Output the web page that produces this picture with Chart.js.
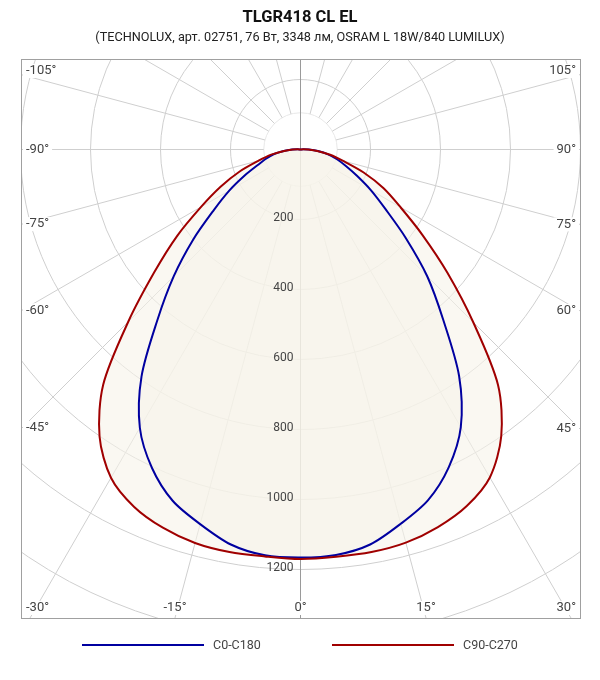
<!DOCTYPE html>
<html>
<head>
<meta charset="utf-8">
<script src="https://cdn.jsdelivr.net/npm/chart.js@4.4.1/dist/chart.umd.min.js"></script>
<style>
html,body{margin:0;padding:0;background:#fff;}
#wrap{position:relative;width:600px;height:680px;font-family:Roboto,"Noto Sans",sans-serif;overflow:hidden;}
#c{position:absolute;left:0;top:0;}
#title{position:absolute;left:0;top:7px;width:600px;text-align:center;font-weight:bold;font-size:16.5px;line-height:20px;color:#111;}
#subtitle{position:absolute;left:0;top:29px;width:600px;text-align:center;font-size:12.7px;line-height:16px;color:#222;}
#legend{position:absolute;left:0;top:637px;width:600px;height:16px;}
.item{position:absolute;top:0;height:16px;}
.swatch{position:absolute;left:0;top:7px;width:122px;height:2px;}
.lab{position:absolute;left:131px;top:0;font-size:12.5px;line-height:16px;color:#444;white-space:nowrap;}
</style>
</head>
<body>
<div id="wrap">
  <canvas id="c" width="600" height="680"></canvas>
  <div id="title">TLGR418 CL EL</div>
  <div id="subtitle">(TECHNOLUX, арт. 02751, 76 Вт, 3348 лм, OSRAM L 18W/840 LUMILUX)</div>
  <div id="legend"></div>
</div>
<script>
// ---- data (angles in degrees, intensity in cd) ----
const angles = [180,175,170,165,160,155,150,145,140,135,130,125,120,115,110,105,100,
  95,90,85,80,75,70,65,60,55,50,45,40,35,30,25,20,15,10,5,
  0,
  -5,-10,-15,-20,-25,-30,-35,-40,-45,-50,-55,-60,-65,-70,-75,-80,-85,-90,-95,
  -100,-105,-110,-115,-120,-125,-130,-135,-140,-145,-150,-155,-160,-165,-170,-175];

const seriesNames = ['C0-C180', 'C90-C270'];
const seriesColors = ['#0000a0', '#a00000'];

const c0c180 = [0,0,0,0,0,0,0,0,0,0,0,0,0,0,0,0,0,
  8,24,50,80,108,138,178,232,296,392,512,634,790,916,1002,1066,1107,1146,1163,
  1166,
  1164,1146,1108,1068,1004,918,792,636,512,400,303,235,176,130,102,78,48,24,8,
  0,0,0,0,0,0,0,0,0,0,0,0,0,0,0,0];

const c90c270 = [0,0,0,0,0,0,0,0,0,0,0,0,0,0,0,0,0,
  8,22,48,86,126,192,262,330,425,548,698,878,1000,1082,1124,1148,1163,1168,1168,
  1170,
  1167,1168,1164,1150,1126,1083,1001,877,696,545,430,328,252,186,124,85,47,22,8,
  0,0,0,0,0,0,0,0,0,0,0,0,0,0,0,0];

const ringValues = [105, 200, 400, 600, 800, 1000, 1200, 1400, 1600];
const innerRing = 105;
const ringLabelValues = [200, 400, 600, 800, 1000, 1200];
const angleLabelValues = [-105,-90,-75,-60,-45,-30,-15,0,15,30,45,60,75,90,105];
const radialMax = 1600;

// ---- layout constants ----
const CX = 300.5, CY = 149.5, PX_PER_CD = 0.35;

// legend (HTML)
const legendEl = document.getElementById('legend');
const legendLeft = [82, 332];
seriesNames.forEach((n, i) => {
  const it = document.createElement('div');
  it.className = 'item';
  it.style.left = legendLeft[i] + 'px';
  it.innerHTML = '<div class="swatch" style="background:' + seriesColors[i] + '"></div><div class="lab">' + n + '</div>';
  legendEl.appendChild(it);
});

const polarLayout = {
  id: 'polarLayout',
  afterLayout(chart) {
    const s = chart.scales.r;
    s.xCenter = CX;
    s.yCenter = CY;
    s.drawingArea = (s.max - s.min) * PX_PER_CD;
  },
  beforeDraw(chart) {
    const {ctx, chartArea: a} = chart;
    ctx.save();
    ctx.beginPath();
    ctx.rect(a.left, a.top, a.right - a.left, a.bottom - a.top);
    ctx.clip();
  },
  afterDraw(chart) {
    const {ctx, chartArea: a} = chart;
    const s = chart.scales.r;
    // ring value labels
    ctx.font = '12px Roboto';
    ctx.fillStyle = '#444';
    ctx.textAlign = 'right';
    ctx.textBaseline = 'middle';
    ringLabelValues.forEach(v => {
      const y = s.yCenter + s.getDistanceFromCenterForValue(v);
      ctx.fillText(String(v), s.xCenter - 7, y - 2);
    });
    // angle labels at the frame
    ctx.font = '13px Roboto';
    ctx.textAlign = 'center';
    angleLabelValues.forEach(a0 => {
      const idx = angles.indexOf(a0);
      const p = s.getPointPosition(idx, 100);
      const dx = (p.x - s.xCenter) / 100, dy = (p.y - s.yCenter) / 100;
      let t = Infinity;
      if (dx > 1e-9) t = Math.min(t, (a.right - s.xCenter) / dx);
      if (dx < -1e-9) t = Math.min(t, (a.left - s.xCenter) / dx);
      if (dy > 1e-9) t = Math.min(t, (a.bottom - s.yCenter) / dy);
      if (dy < -1e-9) t = Math.min(t, (a.top - s.yCenter) / dy);
      const ix = s.xCenter + dx * t, iy = s.yCenter + dy * t;
      const text = a0 + '°';
      const w = ctx.measureText(text).width;
      const h = 14;
      const lift = dy < -1e-9 ? 4 : 0;
      let x, y;
      if (Math.abs(iy - a.bottom) < 0.6) {
        x = Math.min(Math.max(ix, a.left + 4 + w / 2), a.right - 4 - w / 2);
        y = a.bottom - 10;
      } else if (ix <= a.left + 0.6) {
        x = a.left + 4 + w / 2;
        y = Math.max(iy - lift, a.top + 11);
      } else {
        x = a.right - 4 - w / 2;
        y = Math.max(iy - lift, a.top + 11);
      }
      ctx.fillStyle = '#ffffff';
      ctx.fillRect(x - w / 2 - 3, y - h / 2, w + 6, h);
      ctx.fillStyle = '#444';
      ctx.fillText(text, x, y);
    });
    ctx.restore();
    ctx.strokeStyle = '#a0a0a0';
    ctx.lineWidth = 1;
    ctx.strokeRect(a.left - 0.5, a.top - 0.5, a.right - a.left + 1, a.bottom - a.top + 1);
  }
};

const fillColor = 'rgba(247,243,234,0.6)';

new Chart(document.getElementById('c'), {
  type: 'radar',
  data: {
    labels: angles,
    datasets: [
      { label: seriesNames[0], data: c0c180, borderColor: seriesColors[0], backgroundColor: fillColor,
        borderWidth: 2, pointRadius: 0, pointHitRadius: 0, fill: 'origin', tension: 0.3, order: 1 },
      { label: seriesNames[1], data: c90c270, borderColor: seriesColors[1], backgroundColor: fillColor,
        borderWidth: 2, pointRadius: 0, pointHitRadius: 0, fill: 'origin', tension: 0.3, order: 0 }
    ]
  },
  options: {
    responsive: false,
    animation: false,
    events: [],
    layout: { padding: { left: 22, top: 60, right: 20, bottom: 62 } },
    plugins: {
      legend: { display: false },
      tooltip: { enabled: false },
      filler: { drawTime: 'beforeDatasetsDraw' }
    },
    scales: {
      r: {
        min: 0,
        max: radialMax,
        startAngle: 0,
        afterBuildTicks: s => { s.ticks = [0].concat(ringValues).map(v => ({ value: v })); },
        ticks: { display: false },
        pointLabels: { display: false },
        grid: {
          circular: true,
          color: c => (c.tick && c.tick.value === innerRing) ? '#e8e8e8' : '#cfcfcf',
          lineWidth: 1
        },
        angleLines: {
          display: true,
          color: c => { const a = angles[c.index]; return (a === 0 || a === 180) ? '#9a9a9a' : '#cfcfcf'; },
          lineWidth: c => (angles[c.index] % 15 === 0) ? 1 : 0,
          borderDash: c => {
            const a = angles[c.index];
            if (a === 0 || a === 180) return [];
            const r0 = c.chart.scales.r.getDistanceFromCenterForValue(innerRing);
            return [0, r0, 3000, 0];
          }
        }
      }
    }
  },
  plugins: [polarLayout]
});
</script>
</body>
</html>
